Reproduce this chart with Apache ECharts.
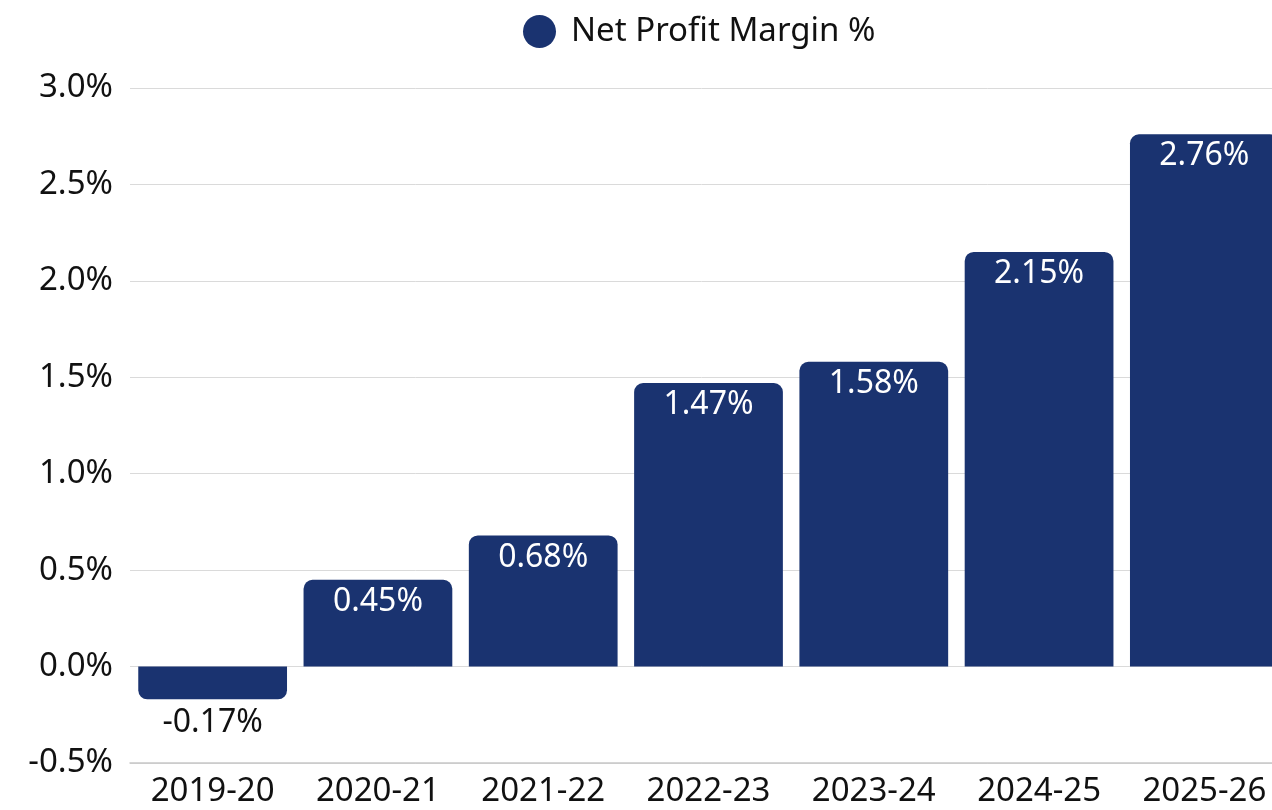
<!DOCTYPE html>
<html><head><meta charset="utf-8">
<script src="https://cdn.jsdelivr.net/npm/echarts@6/dist/echarts.min.js"></script>
<style>html,body{margin:0;padding:0;background:#fff}#c{width:1272px;height:810px}</style>
</head><body><div id="c"></div>
<script>
const categories = ["2019-20","2020-21","2021-22","2022-23","2023-24","2024-25","2025-26"];
const netProfitMargin = [-0.17, 0.45, 0.68, 1.47, 1.58, 2.15, 2.76];
const seriesName = "Net Profit Margin %";
const FONT = "Noto Sans";
const BAR = "#1a3370";

const chart = echarts.init(document.getElementById('c'));
chart.setOption({
  animation: false,
  textStyle: {fontFamily: FONT},
  legend: {
    top: 10, left: 518, icon: 'circle', itemWidth: 33, itemHeight: 33, itemGap: 10,
    textStyle: {fontSize: 33, color: '#111', fontFamily: FONT, padding: [0, 0, 0, 10]}
  },
  grid: {left: 130, width: 1157, top: 88, bottom: 47, containLabel: false, outerBoundsMode: 'none'},
  xAxis: {
    type: 'category', data: categories,
    axisLine: {show: true, onZero: false, lineStyle: {color: '#c8c8c8', width: 1.5}},
    axisTick: {show: false},
    axisLabel: {fontSize: 33, color: '#111', margin: 12, fontFamily: FONT}
  },
  yAxis: {
    type: 'value', min: -0.5, max: 3.0, interval: 0.5,
    axisLine: {show: false}, axisTick: {show: false},
    splitLine: {lineStyle: {color: '#dadada', width: 1}},
    axisLabel: {fontSize: 33, color: '#111', margin: 17, fontFamily: FONT,
      formatter: v => v.toFixed(1) + '%'}
  },
  series: [{
    name: seriesName, type: 'bar', barCategoryGap: '10%',
    itemStyle: {color: BAR},
    data: netProfitMargin.map(v => ({
      value: v,
      itemStyle: {borderRadius: v >= 0 ? [9, 9, 0, 0] : [0, 0, 9, 9]},
      label: v >= 0
        ? {show: true, position: 'insideTop', distance: 6, color: '#fff', fontSize: 32, fontFamily: FONT, formatter: p => p.value.toFixed(2) + '%'}
        : {show: true, position: 'bottom', distance: 8, color: '#111', fontSize: 32, fontFamily: FONT, formatter: p => p.value.toFixed(2) + '%'}
    }))
  }]
});
</script></body></html>
